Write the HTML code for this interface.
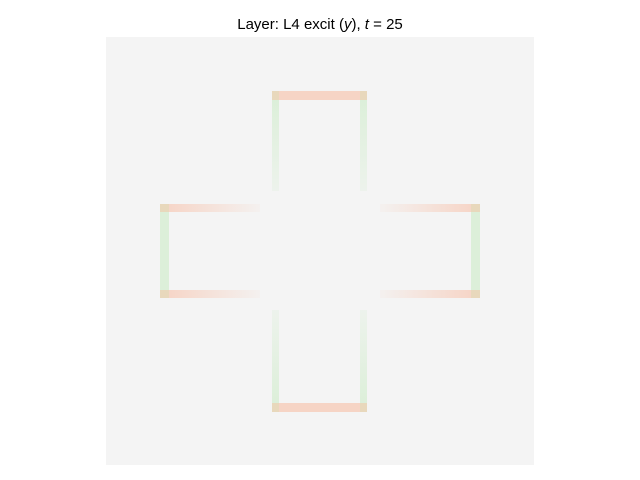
<!DOCTYPE html>
<html><head><meta charset="utf-8"><style>
body{margin:0;background:#fff;width:640px;height:480px;overflow:hidden}
svg{display:block}
</style></head><body>
<svg width="640" height="480">
<defs>
<linearGradient id="fadeL" x1="0" x2="1"><stop offset="0" stop-color="#f6d3c4"/><stop offset="1" stop-color="#f6d3c4" stop-opacity="0.1"/></linearGradient>
<linearGradient id="fadeR" x1="1" x2="0"><stop offset="0" stop-color="#f6d3c4"/><stop offset="1" stop-color="#f6d3c4" stop-opacity="0.1"/></linearGradient>
<linearGradient id="fadeV" x1="0" y1="0" x2="0" y2="1"><stop offset="0" stop-color="#dcefd9"/><stop offset="1" stop-color="#dcefd9" stop-opacity="0.3"/></linearGradient>
<linearGradient id="fadeVu" x1="0" y1="1" x2="0" y2="0"><stop offset="0" stop-color="#dcefd9"/><stop offset="1" stop-color="#dcefd9" stop-opacity="0.3"/></linearGradient>
</defs>
<text x="320" y="29" text-anchor="middle" font-family="Liberation Sans, DejaVu Sans, sans-serif" font-size="15">Layer: L4 excit (<tspan font-style="italic">y</tspan>), <tspan font-style="italic">t</tspan> = 25</text>
<rect x="106" y="37" width="428" height="428" fill="#f4f4f4"/>
<g>
<rect x="272" y="99" width="7" height="92" fill="url(#fadeV)"/>
<rect x="360" y="99" width="7" height="92" fill="url(#fadeV)"/>
<rect x="272" y="91" width="95" height="9" fill="#f6d4c5"/>
<rect x="272" y="91" width="7" height="9" fill="#e8d8bc"/>
<rect x="360" y="91" width="7" height="9" fill="#e8d8bc"/>
</g>
<g>
<rect x="272" y="310" width="7" height="95" fill="url(#fadeVu)"/>
<rect x="360" y="310" width="7" height="95" fill="url(#fadeVu)"/>
<rect x="272" y="403" width="95" height="9" fill="#f6d4c5"/>
<rect x="272" y="403" width="7" height="9" fill="#e8d8bc"/>
<rect x="360" y="403" width="7" height="9" fill="#e8d8bc"/>
</g>
<g>
<rect x="160" y="204" width="100" height="8" fill="url(#fadeL)"/>
<rect x="160" y="290" width="100" height="8" fill="url(#fadeL)"/>
<rect x="160" y="211" width="9" height="80" fill="#dcefd9"/>
<rect x="160" y="204" width="9" height="8" fill="#e8d8bc"/>
<rect x="160" y="290" width="9" height="8" fill="#e8d8bc"/>
</g>
<g>
<rect x="380" y="204" width="100" height="8" fill="url(#fadeR)"/>
<rect x="380" y="290" width="100" height="8" fill="url(#fadeR)"/>
<rect x="471" y="211" width="9" height="80" fill="#dcefd9"/>
<rect x="471" y="204" width="9" height="8" fill="#e8d8bc"/>
<rect x="471" y="290" width="9" height="8" fill="#e8d8bc"/>
</g>
</svg>
</body></html>
